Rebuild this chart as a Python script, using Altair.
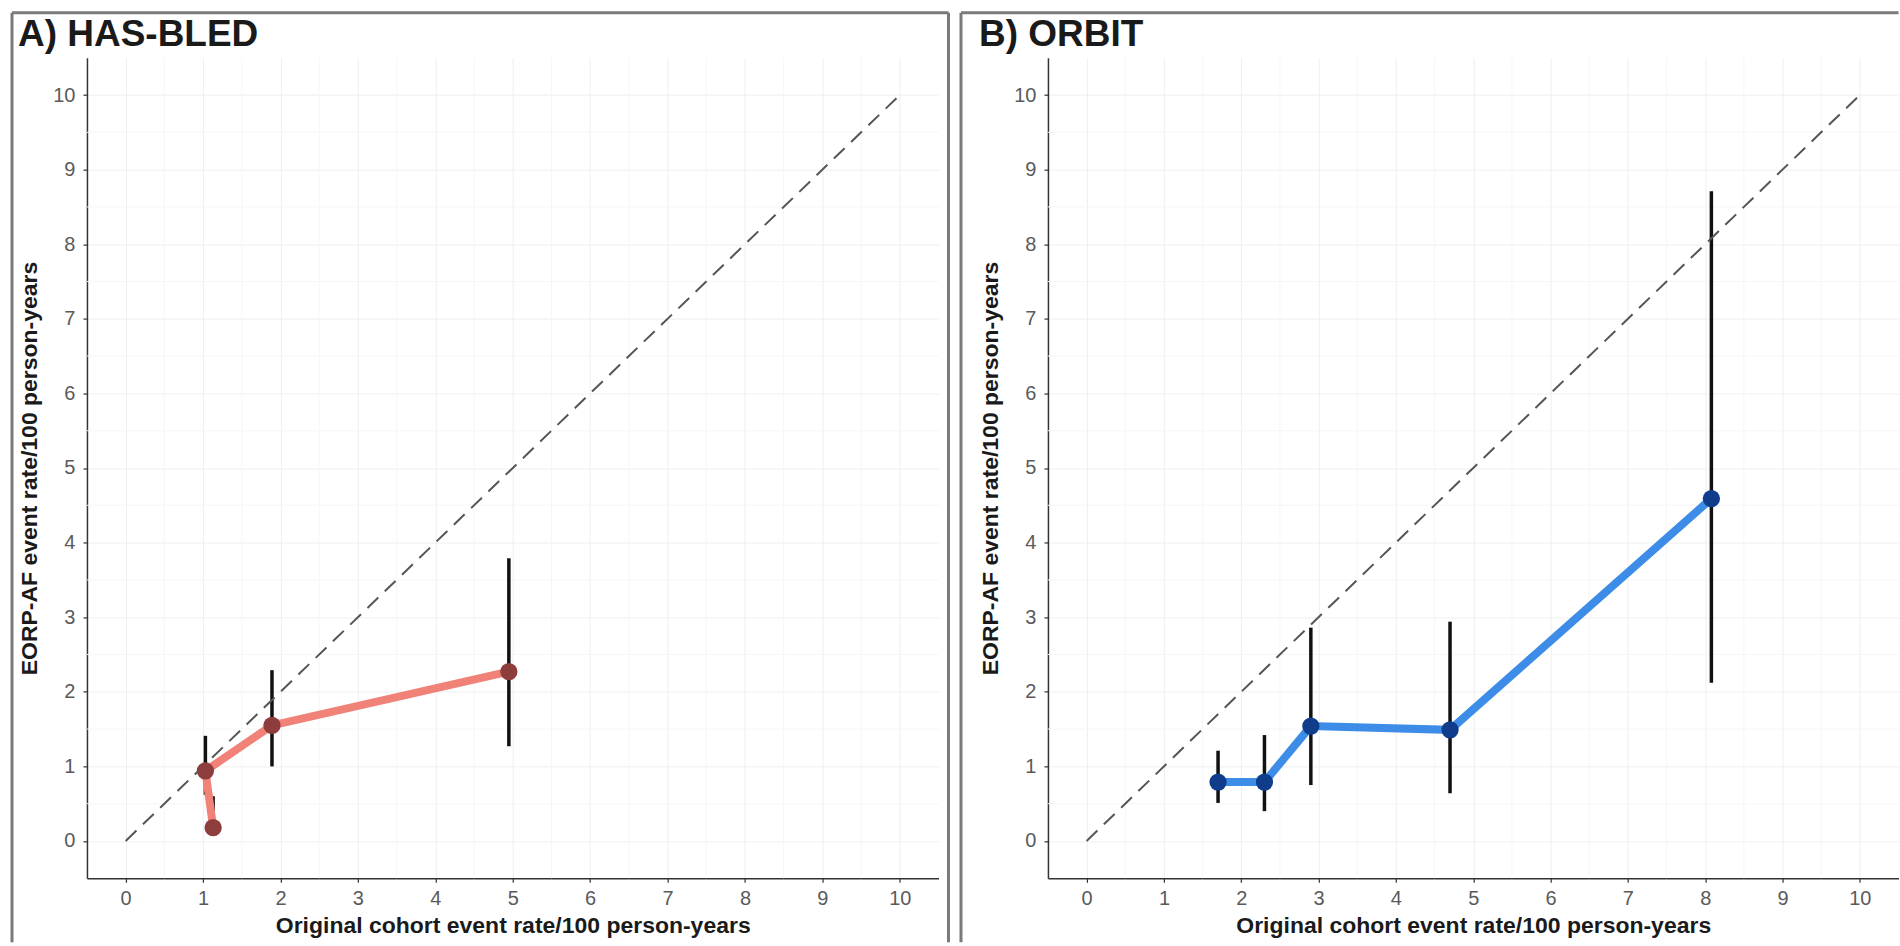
import altair as alt
import pandas as pd

# ---- data ----
TICKS = list(range(0, 11))
MINOR = [0.5, 1.5, 2.5, 3.5, 4.5, 5.5, 6.5, 7.5, 8.5, 9.5]
DIAG_X = [0, 10]
DIAG_Y = [0, 10]

A_X = [1.13, 1.03, 1.89, 4.95]
A_Y = [0.18, 0.94, 1.55, 2.27]
A_LO = [0.07, 0.62, 1.00, 1.27]
A_HI = [0.60, 1.41, 2.29, 3.79]

B_X = [1.70, 2.30, 2.90, 4.70, 8.08]
B_Y = [0.79, 0.79, 1.54, 1.49, 4.59]
B_LO = [0.51, 0.40, 0.75, 0.64, 2.12]
B_HI = [1.21, 1.42, 2.86, 2.94, 8.71]

X_TITLE = "Original cohort event rate/100 person-years"
Y_TITLE = "EORP-AF event rate/100 person-years"
FONT = "Liberation Sans"


def panel(title, xs, ys, lo, hi, line_color, point_color, width, height,
          left_x, right_x, top_x2):
    df = pd.DataFrame({"order": list(range(len(xs))), "x": xs, "y": ys,
                       "lo": lo, "hi": hi})
    diag = pd.DataFrame({"x": DIAG_X, "y": DIAG_Y})
    minor = pd.DataFrame({"v": MINOR})

    xscale = alt.Scale(domain=[-0.5, 10.5], nice=False, zero=False)
    yscale = alt.Scale(domain=[-0.5, 10.5], nice=False, zero=False)
    xaxis = alt.Axis(values=TICKS, title=X_TITLE, grid=True, labelPadding=6,
                     titleY=54, titleBaseline="alphabetic")
    yaxis = alt.Axis(values=TICKS, title=Y_TITLE, grid=True, labelPadding=8,
                     titleX=-50, titleBaseline="alphabetic")

    def X(f):
        return alt.X(f"{f}:Q", scale=xscale, axis=xaxis)

    def Y(f):
        return alt.Y(f"{f}:Q", scale=yscale, axis=yaxis)

    minor_x = alt.Chart(minor).mark_rule(color="#f6f6f6", strokeWidth=1).encode(x=X("v"))
    minor_y = alt.Chart(minor).mark_rule(color="#f6f6f6", strokeWidth=1).encode(y=Y("v"))

    bars = alt.Chart(df).mark_rule(color="#111111", strokeWidth=3.5).encode(
        x=X("x"), y=Y("lo"), y2="hi")
    line = alt.Chart(df).mark_line(color=line_color, strokeWidth=8).encode(
        x=X("x"), y=Y("y"), order="order:O")
    dline = alt.Chart(diag).mark_line(color="#555555", strokeWidth=2,
                                      strokeDash=[15, 9]).encode(x=X("x"), y=Y("y"))
    pts = alt.Chart(df).mark_circle(color=point_color, size=300, opacity=1).encode(
        x=X("x"), y=Y("y"))

    one = alt.Data(values=[{"k": 1}])
    bcol = "#7a7a7a"
    layers = [minor_x, minor_y, bars, line, dline, pts]
    layers.append(alt.Chart(one).mark_rule(color=bcol, strokeWidth=3).encode(
        x=alt.value(left_x), y=alt.value(-45), y2=alt.value(885)))
    if right_x is not None:
        layers.append(alt.Chart(one).mark_rule(color=bcol, strokeWidth=3).encode(
            x=alt.value(right_x), y=alt.value(-45), y2=alt.value(885)))
    layers.append(alt.Chart(one).mark_rule(color=bcol, strokeWidth=3).encode(
        x=alt.value(left_x), x2=alt.value(top_x2), y=alt.value(-45)))
    layers.append(alt.Chart(one).mark_text(
        align="left", baseline="alphabetic", font=FONT, fontSize=37,
        fontWeight="bold", color="#1a1a1a").encode(
        x=alt.value(-69), y=alt.value(-12), text=alt.value(title)))

    return alt.layer(*layers).properties(width=width, height=height)


A = panel("A) HAS-BLED", A_X, A_Y, A_LO, A_HI, "#f08278", "#8e3d3d",
          852, 821, -75, 862, 862)
B = panel("B) ORBIT", B_X, B_Y, B_LO, B_HI, "#3d8de8", "#0f3d8c",
          851, 821, -87, None, 851)

chart = alt.hconcat(A, B, spacing=8.5).properties(
    padding={"left": 10, "top": 10.5, "right": 0, "bottom": 0}
).configure_view(stroke=None).configure_axis(
    domainColor="#333333", domainWidth=1.5,
    tickColor="#333333", tickSize=4, tickWidth=1.2,
    labelFont=FONT, labelFontSize=20, labelColor="#5a5a5a",
    titleFont=FONT, titleFontSize=23, titleFontWeight="bold", titleColor="#1a1a1a",
    gridColor="#efefef", gridWidth=1,
)

chart.save("out.html", embed_options={"renderer": "svg", "actions": False})
